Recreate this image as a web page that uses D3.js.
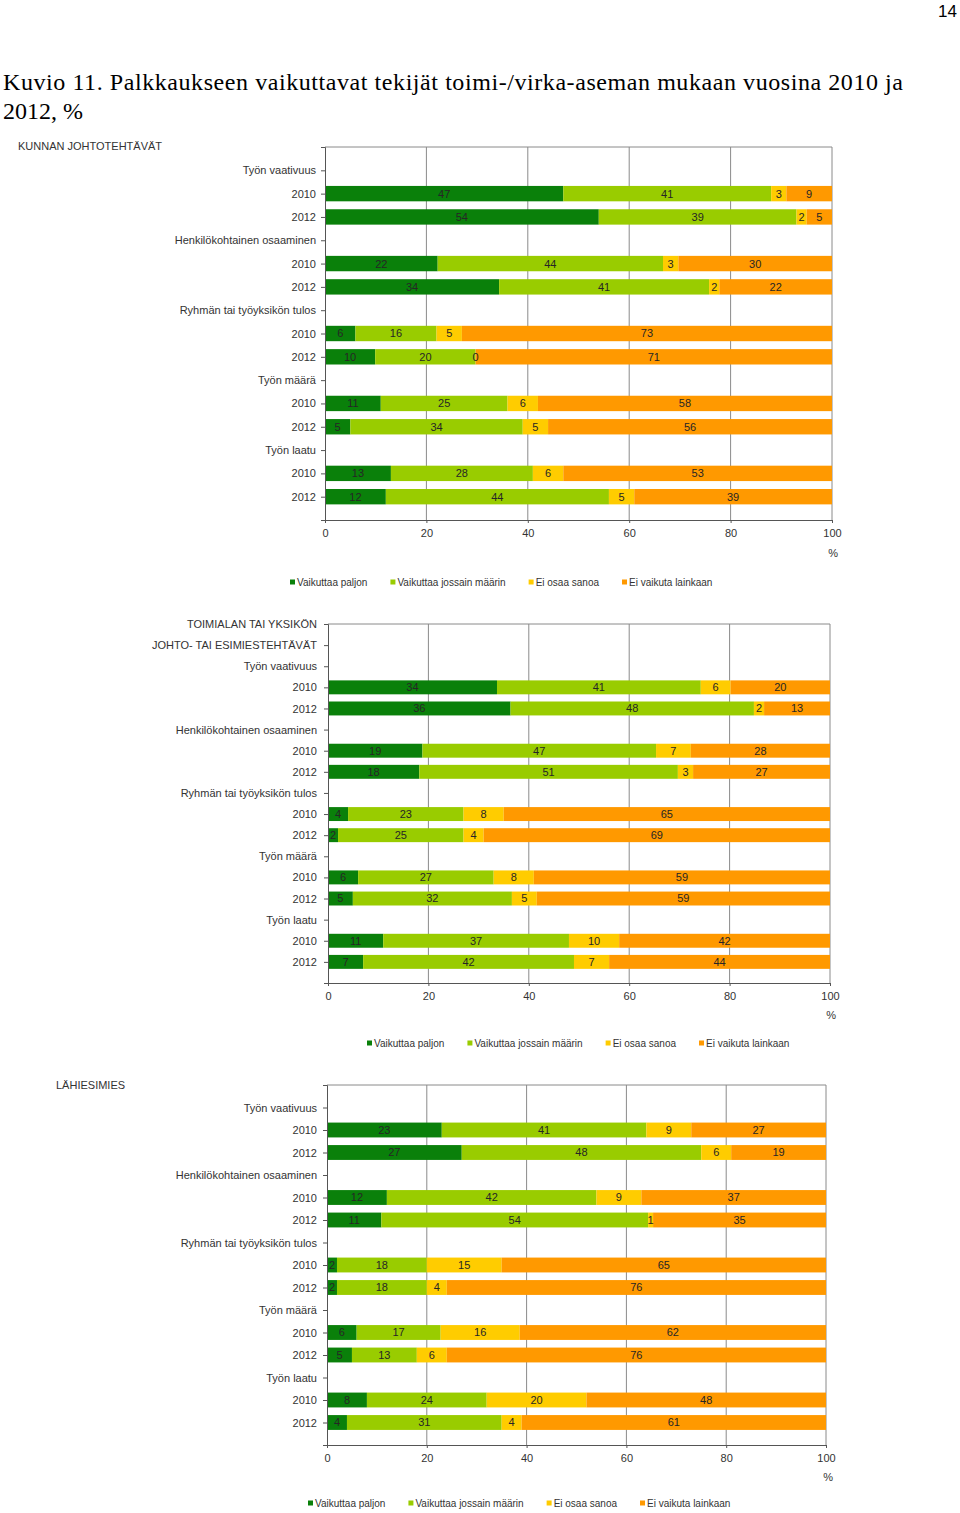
<!DOCTYPE html>
<html><head><meta charset="utf-8">
<script src="https://cdn.jsdelivr.net/npm/d3@7"></script>
<style>body{margin:0;background:#fff;} svg{display:block;}</style>
</head><body>
<svg id="chart" width="960" height="1513"></svg>
<script>
// ---------- DATA ----------
const pageNumber = "14";
const titleLines = ["Kuvio 11. Palkkaukseen vaikuttavat tekijät toimi-/virka-aseman mukaan vuosina 2010 ja", "2012, %"];
const seriesNames = ["Vaikuttaa paljon", "Vaikuttaa jossain määrin", "Ei osaa sanoa", "Ei vaikuta lainkaan"];
const factors = ["Työn vaativuus", "Henkilökohtainen osaaminen", "Ryhmän tai työyksikön tulos", "Työn määrä", "Työn laatu"];
const years = ["2010", "2012"];
const xTickValues = [0, 20, 40, 60, 80, 100];
const percentLabel = "%";

// Panel 1: Kunnan johtotehtävät (order: factor x year)
const kuntaTitle = ["KUNNAN JOHTOTEHTÄVÄT"];
const kuntaPaljon    = [47, 54, 22, 34, 6, 10, 11, 5, 13, 12];
const kuntaJossain   = [41, 39, 44, 41, 16, 20, 25, 34, 28, 44];
const kuntaEiOsaa    = [3, 2, 3, 2, 5, 0, 6, 5, 6, 5];
const kuntaEiVaikuta = [9, 5, 30, 22, 73, 71, 58, 56, 53, 39];

// Panel 2: Toimialan tai yksikön johto- tai esimiestehtävät
const toimialaTitle = ["TOIMIALAN TAI YKSIKÖN", "JOHTO- TAI ESIMIESTEHTÄVÄT"];
const toimialaPaljon    = [34, 36, 19, 18, 4, 2, 6, 5, 11, 7];
const toimialaJossain   = [41, 48, 47, 51, 23, 25, 27, 32, 37, 42];
const toimialaEiOsaa    = [6, 2, 7, 3, 8, 4, 8, 5, 10, 7];
const toimialaEiVaikuta = [20, 13, 28, 27, 65, 69, 59, 59, 42, 44];

// Panel 3: Lähiesimies
const lahiTitle = ["LÄHIESIMIES"];
const lahiPaljon    = [23, 27, 12, 11, 2, 2, 6, 5, 8, 4];
const lahiJossain   = [41, 48, 42, 54, 18, 18, 17, 13, 24, 31];
const lahiEiOsaa    = [9, 6, 9, 1, 15, 4, 16, 6, 20, 4];
const lahiEiVaikuta = [27, 19, 37, 35, 65, 76, 62, 76, 48, 61];

// ---------- STYLE / LAYOUT ----------
const colors = ["#0a800a", "#99cc00", "#ffcc00", "#ff9900"];
const sansFont = "'Liberation Sans', Arial, sans-serif";
const serifFont = "'Liberation Serif', 'Times New Roman', serif";
const textColor = "#333";

const panels = [
  { title: kuntaTitle, titleInAxis: false, series: [kuntaPaljon, kuntaJossain, kuntaEiOsaa, kuntaEiVaikuta],
    left: 325, right: 832, top: 147, bottom: 520, padding: 1, align: 0.5, labelPad: 5,
    titleX: 18, titleY: 146, legendX: 290, legendY: 582, pctX: 838, pctY: 553 },
  { title: toimialaTitle, titleInAxis: true, series: [toimialaPaljon, toimialaJossain, toimialaEiOsaa, toimialaEiVaikuta],
    left: 328, right: 830, top: 624, bottom: 983, padding: 0.5, align: 0, labelPad: 7,
    legendX: 367, legendY: 1043, pctX: 836, pctY: 1015 },
  { title: lahiTitle, titleInAxis: false, series: [lahiPaljon, lahiJossain, lahiEiOsaa, lahiEiVaikuta],
    left: 327, right: 826, top: 1085, bottom: 1445, padding: 1, align: 0.5, labelPad: 6,
    titleX: 56, titleY: 1085, legendX: 308, legendY: 1503, pctX: 833, pctY: 1477 }
];

const svg = d3.select("#chart");

// page number and title
svg.append("text").attr("x", 957).attr("y", 17).attr("text-anchor", "end")
  .attr("font-family", sansFont).attr("font-size", 17).attr("fill", "#000").text(pageNumber);
svg.selectAll("text.title").data(titleLines).join("text").attr("class", "title")
  .attr("x", 3).attr("y", (d, i) => 90 + i * 29)
  .attr("font-family", serifFont).attr("font-size", 24).attr("fill", "#000")
  .each(function (d, i) { if (i === 0) d3.select(this).attr("textLength", 900).attr("lengthAdjust", "spacing"); })
  .text(d => d);

panels.forEach(p => {
  const g = svg.append("g");
  // rows
  const rows = [];
  if (p.titleInAxis) p.title.forEach((t, i) => rows.push({ id: "h" + i, label: t, k: -1 }));
  factors.forEach((f, i) => {
    rows.push({ id: "f" + i, label: f, k: -1 });
    years.forEach((yr, j) => rows.push({ id: "f" + i + "y" + j, label: yr, k: i * years.length + j }));
  });
  const y = d3.scalePoint().domain(rows.map(r => r.id)).range([p.top, p.bottom]).padding(p.padding).align(p.align);
  const x = d3.scaleLinear().domain([0, 100]).range([p.left, p.right]);
  const labelOf = new Map(rows.map(r => [r.id, r.label]));

  // gridlines
  g.selectAll("line.grid").data(xTickValues.filter(v => v > 0)).join("line")
    .attr("x1", d => x(d)).attr("x2", d => x(d)).attr("y1", p.top).attr("y2", p.bottom)
    .attr("stroke", "#8a8a8a").attr("stroke-width", 1);
  g.append("line").attr("x1", p.left).attr("x2", p.right).attr("y1", p.top).attr("y2", p.top)
    .attr("stroke", "#8a8a8a").attr("stroke-width", 1);

  // bars
  const bh = y.step() * 0.66;
  const segs = [];
  rows.filter(r => r.k >= 0).forEach(r => {
    const vals = p.series.map(s => s[r.k]);
    const total = d3.sum(vals);
    let cum = 0;
    vals.forEach((v, si) => {
      segs.push({ row: r.id, si, v, x0: cum / total * 100, x1: (cum + v) / total * 100 });
      cum += v;
    });
  });
  g.selectAll("rect.seg").data(segs).join("rect")
    .attr("x", d => x(d.x0)).attr("width", d => x(d.x1) - x(d.x0))
    .attr("y", d => y(d.row) - bh / 2).attr("height", bh)
    .attr("fill", d => colors[d.si]);
  g.selectAll("text.val").data(segs).join("text")
    .attr("x", d => (x(d.x0) + x(d.x1)) / 2).attr("y", d => y(d.row)).attr("dy", "0.36em")
    .attr("text-anchor", "middle").attr("font-family", sansFont).attr("font-size", 11)
    .attr("fill", "#262626").text(d => d.v);

  // axes
  const ay = g.append("g").attr("transform", `translate(${p.left},0)`)
    .call(d3.axisLeft(y).tickSize(4).tickSizeOuter(4).tickPadding(p.labelPad).tickFormat(id => labelOf.get(id)));
  ay.selectAll("path,line").attr("stroke", "#555");
  ay.selectAll("text").attr("font-family", sansFont).attr("font-size", 11).attr("fill", textColor);

  const ax = g.append("g").attr("transform", `translate(0,${p.bottom})`)
    .call(d3.axisBottom(x).tickValues(xTickValues).tickSize(3).tickSizeOuter(0).tickPadding(6));
  ax.selectAll("path,line").attr("stroke", "#555");
  ax.selectAll("text").attr("font-family", sansFont).attr("font-size", 11).attr("fill", textColor);

  g.append("text").attr("x", p.pctX).attr("y", p.pctY).attr("dy", "0.36em").attr("text-anchor", "end")
    .attr("font-family", sansFont).attr("font-size", 11).attr("fill", textColor).text(percentLabel);

  if (!p.titleInAxis) {
    g.append("text").attr("x", p.titleX).attr("y", p.titleY).attr("dy", "0.36em")
      .attr("font-family", sansFont).attr("font-size", 11).attr("fill", textColor).text(p.title[0]);
  }

  // legend
  let lx = p.legendX;
  seriesNames.forEach((name, i) => {
    g.append("rect").attr("x", lx).attr("y", p.legendY - 2.5).attr("width", 5).attr("height", 5).attr("fill", colors[i]);
    const t = g.append("text").attr("x", lx + 7).attr("y", p.legendY).attr("dy", "0.36em")
      .attr("font-family", sansFont).attr("font-size", 10).attr("fill", textColor).text(name);
    lx = lx + 7 + t.node().getComputedTextLength() + 23;
  });
});
</script>
</body></html>
